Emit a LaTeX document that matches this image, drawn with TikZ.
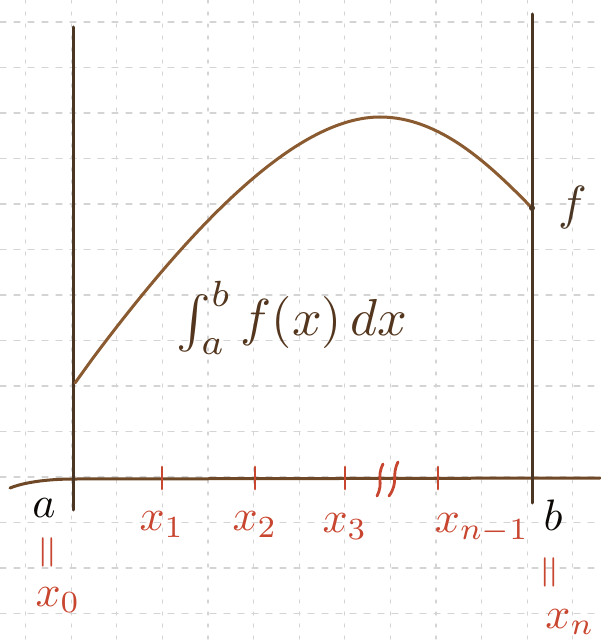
\documentclass[tikz,border=0pt]{standalone}
\usepackage{tikz}
\usetikzlibrary{positioning, calc}
\usepackage{xcolor}
\definecolor{ink}{HTML}{4B3624}
\definecolor{sepia}{HTML}{8A5A30}
\definecolor{redink}{HTML}{C8452F}
\definecolor{gridgray}{HTML}{D4D4D4}

\begin{document}
\begin{tikzpicture}[x=0.5pt, y=-0.5pt, line cap=round,
    gridv/.style={gridgray, line width=0.6pt, dash pattern=on 1.5pt off 4.5pt},
    gridh/.style={gridgray, line width=0.6pt, dash pattern=on 3pt off 4pt},
    penline/.style={ink, line width=1.5pt},
    redtick/.style={redink, line width=1.4pt},
    redlabel/.style={text=redink, scale=2.2},
    endlabel/.style={text=black!85!ink, scale=2.2}]
        \useasboundingbox (0,0) rectangle (600,641);
        % squared paper
        \foreach \k in {0,...,12}
          \draw[gridv] (25.6+45.6*\k,0) -- (25.6+45.6*\k,641);
        \foreach \k in {0,...,13}
          \draw[gridh] (0,22+45.5*\k) -- (600,22+45.5*\k);
        % axis and the two bounds
        \coordinate (axl) at (10,488);
        \coordinate (axr) at (600,478);
        \draw[penline, sepia!80!black] (axl) .. controls (30,480) and (60,479) .. (75,479) -- (axr);
        \coordinate (atop) at (73,27);
        \coordinate (abot) at (73,510);
        \coordinate (btop) at (532,14);
        \coordinate (bbot) at (532,503);
        \draw[penline] (atop) -- (abot);
        \draw[penline] (btop) -- (bbot);
        % the function
        \coordinate (fa) at (75,383);
        \coordinate (ftop) at (380,117);
        \coordinate (fb) at (532,208);
        \draw[sepia, line width=1.5pt] (fa) -- (93,358) .. controls (200,215) and (300,117) .. (ftop)
          .. controls (440,117) and (490,165) .. (fb);
        \fill[ink] (fb) circle (3);
        \node[text=ink, scale=2.4, right=5pt of fb] (flab) {$f$};
        \node[text=sepia!60!black, scale=2.6] (integral) at (292,318) {$\int_a^b f(x)\,dx$};
        % partition points
        \foreach \xx/\nm in {162/p1, 255/p2, 345/p3, 438/pn} {
          \coordinate (\nm) at (\xx,478);
          \draw[redtick] ($(\nm)+(0,-11)$) -- ($(\nm)+(0,11)$);
        }
        \node[redlabel, below=9pt of p1] (l1) {$x_1$};
        \node[redlabel, below=9pt of p2] (l2) {$x_2$};
        \node[redlabel, below=10pt of p3] (l3) {$x_3$};
        \node[redlabel, below=10pt of pn, xshift=10pt] (ln) {$x_{n-1}$};
        % break in the axis
        \draw[redtick] (383,464) .. controls (376,478) and (384,482) .. (377,496);
        \draw[redtick] (398,462) .. controls (391,476) and (399,482) .. (389,496);
        % end labels
        \node[endlabel] (la) at (44,508) {$a$};
        \node[redlabel, rotate=90] (eqa) at (50,552) {$=$};
        \node[redlabel] (x0) at (58,600) {$x_0$};
        \node[endlabel] (lb) at (553,515) {$b$};
        \node[redlabel, rotate=90] (eqb) at (552,572) {$=$};
        \node[redlabel] (xn) at (570,622) {$x_n$};
      \end{tikzpicture}
\end{document}
